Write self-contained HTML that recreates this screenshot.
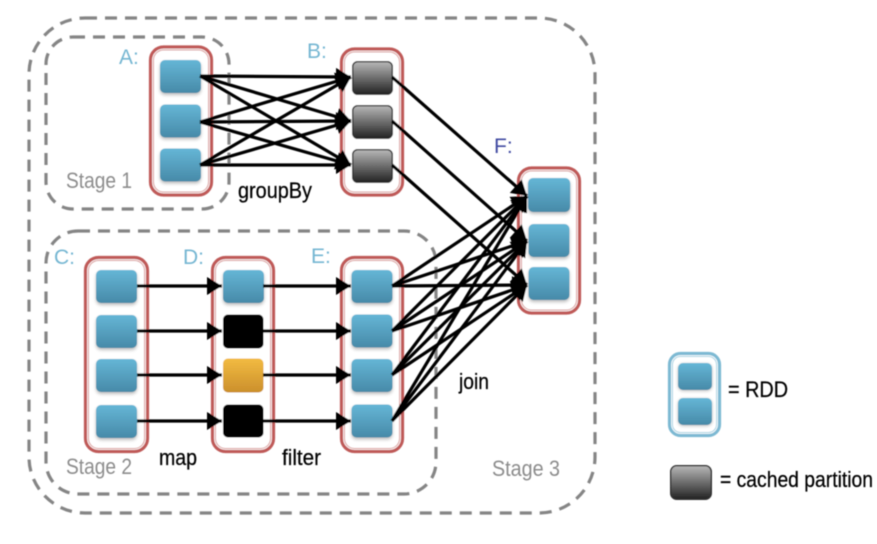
<!DOCTYPE html>
<html>
<head>
<meta charset="utf-8">
<style>
html,body{margin:0;padding:0;background:#fff;}
svg{display:block;}
text{font-family:"Liberation Sans",sans-serif;}
</style>
</head>
<body>
<svg width="877" height="544" viewBox="0 0 877 544" xmlns="http://www.w3.org/2000/svg">
<defs>
<linearGradient id="b" x1="0" y1="0" x2="0" y2="1"><stop offset="0" stop-color="#65b6d6"/><stop offset="1" stop-color="#478aa8"/></linearGradient>
<linearGradient id="g" x1="0" y1="0" x2="0" y2="1"><stop offset="0" stop-color="#b8b8b8"/><stop offset="1" stop-color="#222"/></linearGradient>
<linearGradient id="o" x1="0" y1="0" x2="0" y2="1"><stop offset="0" stop-color="#f2bb42"/><stop offset="1" stop-color="#cb8f2b"/></linearGradient>
<filter id="s" x="-20%" y="-20%" width="140%" height="150%"><feGaussianBlur stdDeviation="1.5"/></filter>
<filter id="soft" x="-2%" y="-2%" width="104%" height="104%"><feGaussianBlur stdDeviation="0.5"/></filter>
<marker id="a" markerUnits="userSpaceOnUse" markerWidth="16" markerHeight="19" refX="15" refY="9" orient="auto" overflow="visible"><path d="M0 0L15 9L0 18Z" fill="#000"/></marker>
<g id="pb"><rect x="0" y="2" width="41" height="33" rx="5" fill="#888" opacity=".55" filter="url(#s)"/><rect width="41" height="33" rx="5" fill="url(#b)"/></g>
<g id="pg"><rect x=".7" y=".7" width="39.6" height="32.6" rx="5" fill="url(#g)" stroke="#333" stroke-width="1.4"/></g>
</defs>
<g filter="url(#soft)">
<!-- stages -->
<g fill="none" stroke="#858585" stroke-width="3.2" stroke-dasharray="12 8">
<rect x="29" y="18" width="566" height="495" rx="56"/>
<rect x="46" y="37" width="183" height="172" rx="27"/>
<rect x="46" y="231" width="390" height="263" rx="32"/>
</g>
<!-- containers -->
<g fill="#fff" stroke="#bf5a58" stroke-width="3.2">
<rect x="150.500" y="47" width="61" height="148" rx="13"/>
<rect x="341.500" y="49" width="61" height="146" rx="13"/>
<rect x="518.500" y="168" width="61" height="145" rx="13"/>
<rect x="85.500" y="257.500" width="62" height="194" rx="13"/>
<rect x="212.500" y="257.500" width="61" height="194" rx="13"/>
<rect x="341.500" y="257.500" width="61" height="194" rx="13"/>
</g>
<g fill="none" stroke="#d99a98" stroke-width="1">
<rect x="153.500" y="50" width="55" height="142" rx="10"/>
<rect x="344.500" y="52" width="55" height="140" rx="10"/>
<rect x="521.500" y="171" width="55" height="139" rx="10"/>
<rect x="88.500" y="260.500" width="56" height="188" rx="10"/>
<rect x="215.500" y="260.500" width="55" height="188" rx="10"/>
<rect x="344.500" y="260.500" width="55" height="188" rx="10"/>
</g>
<!-- partitions -->
<use href="#pb" x="160" y="60"/><use href="#pb" x="160" y="104.500"/><use href="#pb" x="160" y="148.500"/>
<use href="#pg" x="352" y="61"/><use href="#pg" x="352" y="105"/><use href="#pg" x="352" y="149"/>
<use href="#pb" transform="translate(528 178) scale(1.03 1.03)"/><use href="#pb" x="528.500" y="224"/><use href="#pb" x="528.500" y="267"/>
<use href="#pb" x="96" y="270"/><use href="#pb" x="96" y="315"/><use href="#pb" x="96" y="359"/><use href="#pb" x="96" y="405"/>
<use href="#pb" x="223" y="270"/>
<rect x="223" y="314.500" width="40.500" height="34" rx="5" fill="#000"/>
<rect x="223" y="358.500" width="40.500" height="34" rx="5" fill="url(#o)"/>
<rect x="223" y="404.500" width="40.500" height="33" rx="5" fill="#000"/>
<use href="#pb" x="351.500" y="270"/><use href="#pb" x="351.500" y="314.500"/><use href="#pb" x="351.500" y="359"/><use href="#pb" x="351.500" y="404.500"/>
<!-- connectors -->
<g stroke="#000" stroke-width="3.200" fill="none">
<path d="M200 76L351 77" marker-end="url(#a)"/><path d="M200 76L351 121" marker-end="url(#a)"/><path d="M200 76L351 165" marker-end="url(#a)"/>
<path d="M200 122L351 77" marker-end="url(#a)"/><path d="M200 122L351 121" marker-end="url(#a)"/><path d="M200 122L351 165" marker-end="url(#a)"/>
<path d="M200 165L351 77" marker-end="url(#a)"/><path d="M200 165L351 121" marker-end="url(#a)"/><path d="M200 165L351 165" marker-end="url(#a)"/>
<path d="M392 77L527 196" marker-end="url(#a)"/><path d="M392 121L527 241" marker-end="url(#a)"/><path d="M392 165L527 285" marker-end="url(#a)"/>
<path d="M392 286L527 196" marker-end="url(#a)"/><path d="M392 286L527 241" marker-end="url(#a)"/><path d="M392 286L527 285" marker-end="url(#a)"/>
<path d="M392 331L527 196" marker-end="url(#a)"/><path d="M392 331L527 241" marker-end="url(#a)"/><path d="M392 331L527 285" marker-end="url(#a)"/>
<path d="M392 375L527 196" marker-end="url(#a)"/><path d="M392 375L527 241" marker-end="url(#a)"/><path d="M392 375L527 285" marker-end="url(#a)"/>
<path d="M392 421L527 196" marker-end="url(#a)"/><path d="M392 421L527 241" marker-end="url(#a)"/><path d="M392 421L527 285" marker-end="url(#a)"/>
<path d="M137 286L222 286" marker-end="url(#a)"/><path d="M137 331L222 331" marker-end="url(#a)"/><path d="M137 375L222 375" marker-end="url(#a)"/><path d="M137 421L222 421" marker-end="url(#a)"/>
<path d="M263 286L351 286" marker-end="url(#a)"/><path d="M263 331L351 331" marker-end="url(#a)"/><path d="M263 375L351 375" marker-end="url(#a)"/><path d="M263 421L351 421" marker-end="url(#a)"/>
</g>
<!-- labels -->
<g font-size="21" fill="#74b6d2">
<text x="119" y="64">A:</text>
<text x="307" y="58">B:</text>
<text x="54" y="264">C:</text>
<text x="183" y="264">D:</text>
<text x="311" y="263">E:</text>
</g>
<text x="494" y="153" font-size="21" fill="#3f4aa0">F:</text>
<g font-size="22" fill="#8c8c8c">
<text x="66" y="188" textLength="66" lengthAdjust="spacingAndGlyphs">Stage 1</text>
<text x="66" y="474" textLength="66" lengthAdjust="spacingAndGlyphs">Stage 2</text>
<text x="492" y="476" textLength="68" lengthAdjust="spacingAndGlyphs">Stage 3</text>
</g>
<g font-size="22" fill="#000" stroke="#000" stroke-width=".25">
<text x="238" y="198" textLength="74" lengthAdjust="spacingAndGlyphs">groupBy</text>
<text x="159" y="465" textLength="38" lengthAdjust="spacingAndGlyphs">map</text>
<text x="282" y="465" textLength="39" lengthAdjust="spacingAndGlyphs">filter</text>
<text x="459" y="389" textLength="30" lengthAdjust="spacingAndGlyphs">join</text>
<text x="728" y="397" textLength="60" lengthAdjust="spacingAndGlyphs">= RDD</text>
<text x="720" y="487" textLength="153" lengthAdjust="spacingAndGlyphs">= cached partition</text>
</g>
<!-- legend -->
<rect x="669.500" y="353.500" width="50" height="82" rx="11" fill="#fff" stroke="#7db9d3" stroke-width="3.200"/>
<rect x="672.500" y="356.500" width="44" height="76" rx="8" fill="none" stroke="#a9d2e3" stroke-width="1"/>
<rect x="678" y="364" width="34" height="27" rx="5" fill="#888" opacity=".55" filter="url(#s)"/>
<rect x="678" y="363" width="34" height="27" rx="5" fill="url(#b)"/>
<rect x="678" y="399" width="34" height="27" rx="5" fill="#888" opacity=".55" filter="url(#s)"/>
<rect x="678" y="398" width="34" height="27" rx="5" fill="url(#b)"/>
<rect x="670.700" y="465.700" width="40.600" height="33.600" rx="6" fill="url(#g)" stroke="#333" stroke-width="1.400"/>
</g>
</svg>
</body>
</html>
